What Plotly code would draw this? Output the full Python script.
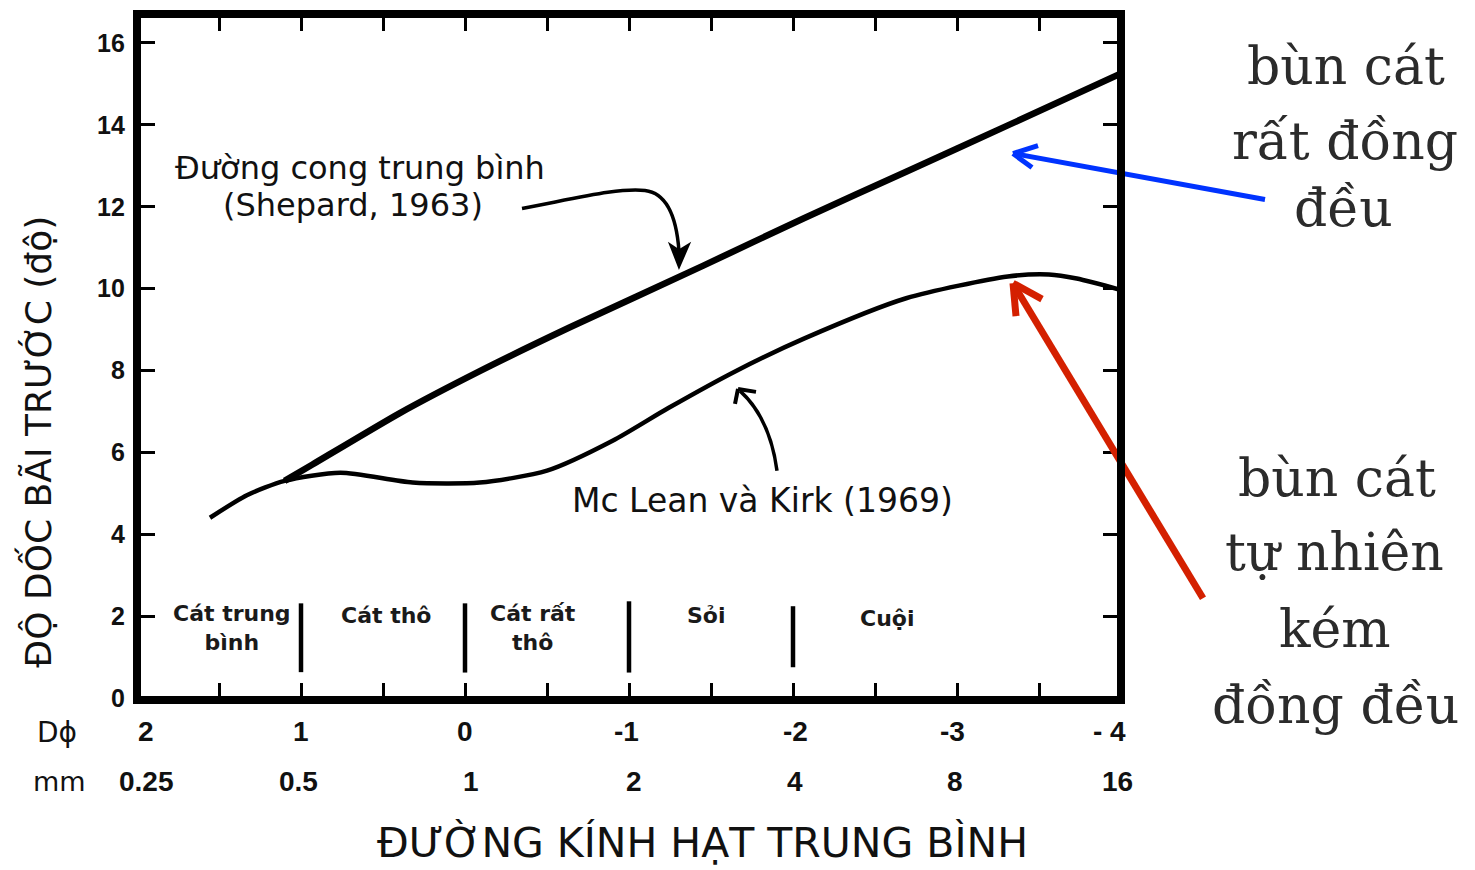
import plotly.graph_objects as go

# ---------------- data ----------------
shepard_phi = [1.10, 0.93, 0.40, -0.09, -0.64, -1.45, -2.07, -2.69, -3.31, -4.00]
shepard_slope = [5.30, 5.70, 6.95, 7.98, 9.05, 10.55, 11.72, 12.85, 13.98, 15.25]

mclean_phi = [1.555, 1.33, 1.10, 0.76, 0.32, -0.09, -0.50, -0.90, -1.24, -1.65,
              -2.07, -2.69, -3.31, -3.56, -3.73, -4.00]
mclean_slope = [4.40, 4.95, 5.30, 5.50, 5.26, 5.26, 5.55, 6.28, 7.08, 7.98,
                8.78, 9.76, 10.29, 10.34, 10.24, 9.96]

phi_ticks = [2, 1, 0, -1, -2, -3, -4]
phi_labels = ["2", "1", "0", "-1", "-2", "-3", "- 4"]
mm_labels = ["0.25", "0.5", "1", "2", "4", "8", "16"]
phi_minor = [2, 1.5, 1, 0.5, 0, -0.5, -1, -1.5, -2, -2.5, -3, -3.5, -4]

slope_ticks = [0, 2, 4, 6, 8, 10, 12, 14, 16]
slope_labels = ["0", "2", "4", "6", "8", "10", "12", "14", "16"]

class_bounds = [1, 0, -1, -2]
class_bound_low = [0.63, 0.62, 0.62, 0.75]
class_bound_high = [2.31, 2.31, 2.36, 2.24]
class_names = ["Cát trung<br>bình", "Cát thô", "Cát rất<br>thô", "Sỏi", "Cuội"]

# ---------------- layout geometry ----------------
FIG_W, FIG_H = 1475, 870
L, T, W, H = 137, 12, 984, 688
R = FIG_W - L - W
B = FIG_H - T - H


def pxx(px):
    return (px - L) / W


def pyy(py):
    return 1 - (py - T) / H


SANS = "DejaVu Sans, Verdana, sans-serif"
ARIAL = "Liberation Sans, Arial, sans-serif"
SERIF = "DejaVu Serif, serif"

fig = go.Figure()

fig.add_trace(go.Scatter(x=mclean_phi, y=mclean_slope, mode="lines",
                         line=dict(color="black", width=4.5, shape="spline", smoothing=0.7),
                         hoverinfo="skip"))
fig.add_trace(go.Scatter(x=shepard_phi, y=shepard_slope, mode="lines",
                         line=dict(color="black", width=6.5, shape="spline", smoothing=0.6),
                         hoverinfo="skip"))

# class boundaries
bx, by = [], []
for b, lo, hi in zip(class_bounds, class_bound_low, class_bound_high):
    bx += [b, b, None]
    by += [lo, hi, None]
fig.add_trace(go.Scatter(x=bx, y=by, mode="lines", line=dict(color="black", width=4.5),
                         hoverinfo="skip"))

annotations = []


def ann(text, px, py, size, family=SANS, color="#111111", xanchor="center",
        yanchor="middle", angle=0, align="center"):
    annotations.append(dict(text=text, x=pxx(px), y=pyy(py), xref="paper", yref="paper",
                            showarrow=False, xanchor=xanchor, yanchor=yanchor,
                            textangle=angle, align=align,
                            font=dict(family=family, size=size, color=color)))


# y tick labels
for v, lab in zip(slope_ticks, slope_labels):
    py = 698 - v * 41.07
    ann(f"<b>{lab}</b>", 127, py, 25, family=ARIAL, xanchor="right")

# x tick label rows
phi_shift = [9, 0, 0, -3, 2, -5, -12]
mm_shift = [9, -3, 6, 5, 2, -2, -4]
for i, (v, lab, mm) in enumerate(zip(phi_ticks, phi_labels, mm_labels)):
    px = L + (2 - v) * W / 6
    ann(f"<b>{lab}</b>", px + phi_shift[i], 732, 28, family=ARIAL)
    ann(f"<b>{mm}</b>", px + mm_shift[i], 782, 28, family=ARIAL)

ann("Dϕ", 57, 733, 28, family=SANS)
ann("mm", 59, 782, 27, family=SANS)

# axis titles
ann("ĐỘ DỐC BÃI TRƯỚC (độ)", 37, 441, 36, family=SANS, angle=-90)
ann("ĐƯỜNG KÍNH HẠT TRUNG BÌNH", 702, 843, 41, family=SANS)

# curve labels
ann("Đường cong trung bình", 360, 166, 32, family=SANS)
ann("(Shepard, 1963)", 353, 204, 32, family=SANS)
ann("Mc Lean và Kirk (1969)", 762, 500, 33, family=SANS)

# class labels
class_pos = [(232, 628), (386, 615), (533, 628), (706, 615), (887, 618)]
for name, (px, py) in zip(class_names, class_pos):
    ann(f"<b>{name}</b>", px, py, 22, family=SANS, color="#1a1a1a")

# right-hand explanatory text
for txt, px, py in [("bùn cát", 1346, 64), ("rất đồng", 1345, 139), ("đều", 1343, 207),
                    ("bùn cát", 1337, 477), ("tự nhiên", 1334, 552), ("kém", 1335, 629),
                    ("đồng đều", 1335, 705)]:
    ann(txt, px, py, 52, family=SERIF, color="#2b2b2b")

shapes = []


def seg(p0, p1, color, width):
    shapes.append(dict(type="line", xref="paper", yref="paper",
                       x0=pxx(p0[0]), y0=pyy(p0[1]), x1=pxx(p1[0]), y1=pyy(p1[1]),
                       line=dict(color=color, width=width)))


def cpath(points, color, width, fill=None):
    s = ""
    for cmd, pts in points:
        s += cmd + " " + " ".join(f"{pxx(x):.5f},{pyy(y):.5f}" for x, y in pts) + " "
    if fill:
        s += "Z"
    shapes.append(dict(type="path", xref="paper", yref="paper", path=s.strip(),
                       line=dict(color=color, width=width),
                       fillcolor=fill if fill else "rgba(0,0,0,0)"))


# Shepard label arrow (curved, black)
cpath([("M", [(522, 207)]), ("C", [(580, 196), (620, 186), (645, 189)]),
       ("C", [(670, 192), (677, 222), (679, 250)])], "black", 3.5)
cpath([("M", [(679, 266)]), ("L", [(670, 243)]), ("L", [(679, 249)]), ("L", [(689, 243)])],
      "black", 2, fill="black")

# McLean label arrow (curved, black)
cpath([("M", [(777, 470)]), ("C", [(773, 440), (762, 410), (740, 390)])], "black", 3.5)
seg((738, 388), (735, 403), "black", 4)
seg((738, 388), (756, 391), "black", 4)

# blue arrow
seg((1265, 198), (1014, 152), "#0033ff", 5)
seg((1013, 152), (1038, 144), "#0033ff", 5)
seg((1013, 152), (1032, 166), "#0033ff", 5)

# red arrow
seg((1203, 598), (1014, 284), "#d42000", 7)
seg((1013, 282), (1042, 298), "#d42000", 7)
seg((1013, 282), (1016, 315), "#d42000", 7)

# heavy frame
shapes.append(dict(type="rect", xref="paper", yref="paper", x0=0, y0=0, x1=1, y1=1,
                   line=dict(color="black", width=8), layer="above"))

fig.update_layout(
    width=FIG_W, height=FIG_H,
    margin=dict(l=L, r=R, t=T, b=B, pad=0),
    paper_bgcolor="white", plot_bgcolor="white",
    showlegend=False,
    annotations=annotations,
    shapes=shapes,
    xaxis=dict(range=[2, -4], tickvals=phi_minor, ticks="inside", ticklen=17, tickwidth=3,
               tickcolor="black", showticklabels=False, showgrid=False, zeroline=False,
               showline=True, linewidth=2, linecolor="black", mirror="ticks", fixedrange=True),
    yaxis=dict(range=[-0.05, 16.7], tickvals=slope_ticks, ticks="inside", ticklen=18,
               tickwidth=3, tickcolor="black", showticklabels=False, showgrid=False,
               zeroline=False, showline=True, linewidth=2, linecolor="black", mirror="ticks",
               fixedrange=True),
)

fig.write_html("out.html")
